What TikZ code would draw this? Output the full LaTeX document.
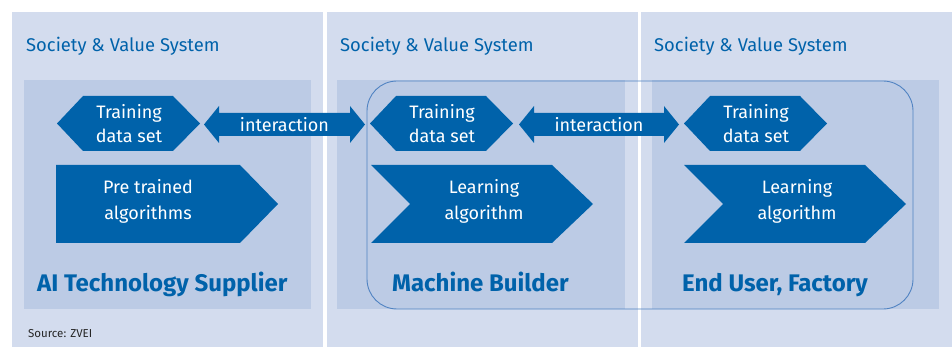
\documentclass[tikz,border=0pt]{standalone}
\usepackage{fontspec}
\setmainfont{Fira Sans}
\usetikzlibrary{calc}
\definecolor{panelbg}{HTML}{D3DCEE}
\definecolor{innerbg}{HTML}{BCCBE5}
\definecolor{deepblue}{HTML}{0062AA}
\definecolor{outlineblue}{HTML}{5083C2}
\tikzset{
  x=1pt, y=-1pt,
  panel/.style={fill=panelbg, draw=none},
  inner/.style={fill=innerbg, draw=none},
  shapefill/.style={fill=deepblue, draw=none},
  whitetxt/.style={text=white, font=\fontsize{18}{24}\selectfont, align=center, inner sep=0pt},
  headtxt/.style={text=deepblue, font=\fontsize{18.4}{20}\selectfont, anchor=base west, inner sep=0pt},
  roletxt/.style={text=deepblue, font=\bfseries\fontsize{24}{26}\selectfont, anchor=base west, inner sep=0pt},
}
\begin{document}
\begin{tikzpicture}
\useasboundingbox (0,0) rectangle (952,347);
\fill[white] (0,0) rectangle (952,347);
% three columns
\fill[panel] (12,12) rectangle (323,347);
\fill[panel] (327,12) rectangle (638,347);
\fill[panel] (641,12) rectangle (952,347);
% inner boxes
\fill[inner] (24,80) rectangle (311,309);
\fill[inner] (337,80) rectangle (625,309);
\fill[inner] (652,80) rectangle (939,309);
% shared outline of builder and user
\draw[outlineblue, line width=0.9pt, rounded corners=30pt] (367,81) rectangle (913,309);

% headings
\foreach \x/\n in {26/h1, 340/h2, 654/h3}
  \node[headtxt] (\n) at (\x,52) {Society \& Value System};

% training data hexagons
\foreach \x/\n in {57/t1, 370/t2, 684/t3}{
  \fill[shapefill] (\x,123.5) -- ++(26,-27.5) -- ++(90,0) -- ++(27,27.5) -- ++(-27,27.5) -- ++(-90,0) -- cycle;
  \node[whitetxt] (\n) at (\x+72,123.5) {Training\\data set};
}

% interaction double arrows
\foreach \a/\b/\n in {204/365/i1, 519/679/i2}{
  \fill[shapefill] (\a,124.5) -- (\a+15,106) -- (\a+15,113) -- (\b-15,113) -- (\b-15,106)
     -- (\b,124.5) -- (\b-15,143) -- (\b-15,136) -- (\a+15,136) -- (\a+15,143) -- cycle;
  \node[whitetxt] (\n) at ({(\a+\b)/2},124.5) {interaction};
}

% pre trained algorithms (pentagon)
\fill[shapefill] (56,165) -- (240,165) -- (278,204) -- (240,243) -- (56,243) -- cycle;
\node[whitetxt] (p1) at (148,201.5) {Pre trained\\[2pt]algorithms};

% learning algorithm chevrons
\foreach \x/\n in {371/l2, 684/l3}{
  \fill[shapefill] (\x,165) -- (\x+181,165) -- (\x+222,204) -- (\x+181,243) -- (\x,243) -- (\x+39,204) -- cycle;
  \node[whitetxt] (\n) at (\x+113,201.5) {Learning\\[2pt]algorithm};
}

% role labels
\node[roletxt] (r1) at (37,291) {AI Technology Supplier};
\node[roletxt] (r2) at (392,291) {Machine Builder};
\node[roletxt] (r3) at (682,291) {End User, Factory};

% source note
\node[anchor=base west, inner sep=0pt, font=\fontsize{11.5}{12}\selectfont, text=black!85] (src) at (28,337) {Source: ZVEI};
\end{tikzpicture}
\end{document}
